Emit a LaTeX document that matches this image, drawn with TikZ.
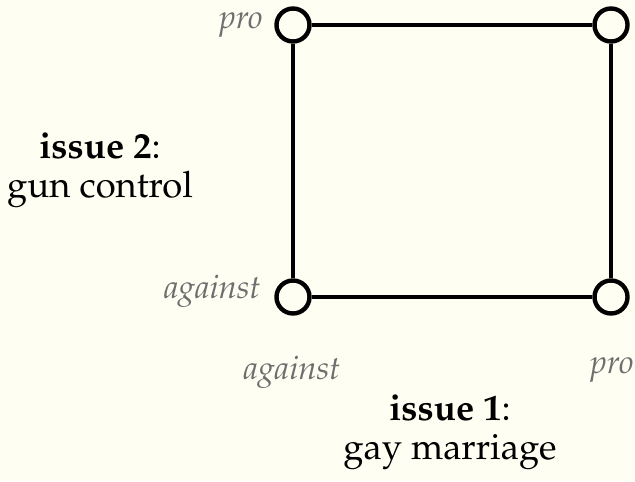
\documentclass[tikz,border=0pt]{standalone}
\usepackage[T1]{fontenc}
\usepackage{mathpazo}
\definecolor{paper}{RGB}{255,254,242}
\definecolor{labelgray}{RGB}{110,110,110}
\tikzset{
  corner/.style={circle, draw=black, fill=paper, line width=2.2pt, minimum size=16.5pt, inner sep=0pt},
  side/.style={line width=2.2pt},
  poslabel/.style={text=labelgray, font=\fontsize{16.4}{19}\selectfont\itshape, inner sep=0pt},
  axislabel/.style={align=center, font=\fontsize{18.2}{19.5}\selectfont, inner sep=0pt}
}
\begin{document}
\begin{tikzpicture}[x=0.5pt, y=-0.5pt]
  \fill[paper] (0,0) rectangle (635,481);
  \useasboundingbox (0,0) rectangle (635,481);
  % the four positions on the two issues
  \node[corner] (tl) at (293,25) {};
  \node[corner] (tr) at (611,25) {};
  \node[corner] (bl) at (293,297) {};
  \node[corner] (br) at (611,297) {};
  \draw[side] (tl) -- (tr);
  \draw[side] (tr) -- (br);
  \draw[side] (br) -- (bl);
  \draw[side] (bl) -- (tl);
  % position labels
  \node[poslabel, anchor=base east] (lpro) at (263,29) {pro};
  \node[poslabel, anchor=base east] (lagainst) at (261,298) {against};
  \node[poslabel, anchor=base] (bagainst) at (292,379) {against};
  \node[poslabel, anchor=base] (bpro) at (612,373) {pro};
  % issue titles
  \node[axislabel] (issue2) at (100,170) {\textbf{issue 2}:\\gun control};
  \node[axislabel] (issue1) at (450,432) {\textbf{issue 1}:\\gay marriage};
\end{tikzpicture}
\end{document}
